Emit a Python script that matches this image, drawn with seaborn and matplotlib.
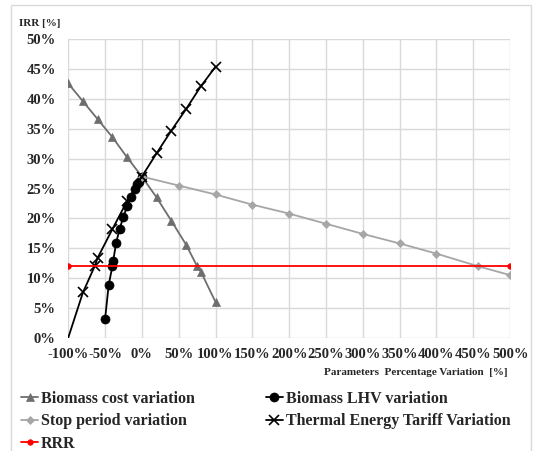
import numpy as np
import pandas as pd
import seaborn as sns
import matplotlib.pyplot as plt
from matplotlib.patches import Rectangle

# Values (x: % variation, y: IRR %)
cost_x = [-100, -80, -60, -40, -20, 0, 20, 40, 60, 75, 80, 100]
cost_y = [42.6, 39.6, 36.6, 33.6, 30.2, 27.0, 23.5, 19.6, 15.6, 12.0, 11.1, 6.0]

lhv_x = [-50, -45, -40, -39, -35, -30, -25, -20, -15, -10, -6, -4, 0]
lhv_y = [3.1, 8.9, 12.0, 12.8, 15.9, 18.3, 20.3, 22.0, 23.5, 24.9, 25.7, 26.1, 27.0]

stop_x = [0, 50, 100, 150, 200, 250, 300, 350, 400, 456, 500]
stop_y = [27.0, 25.5, 24.0, 22.3, 20.8, 19.1, 17.4, 15.8, 14.1, 12.0, 10.5]

tariff_x = [-100, -80, -64, -60, -40, -20, 0, 20, 40, 60, 80, 100]
tariff_y = [0.0, 7.6, 12.0, 13.4, 18.2, 22.9, 27.0, 30.9, 34.7, 38.3, 42.1, 45.4]

rrr_x = [-100, 500]
rrr_y = [12.0, 12.0]

x_ticks = list(range(-100, 501, 50))
y_ticks = list(range(0, 51, 5))

sns.set_theme(style="white")
plt.rcParams['font.family'] = ['Liberation Serif', 'DejaVu Serif']
plt.rcParams['font.weight'] = 'bold'

fig = plt.figure(figsize=(5.33, 4.51), dpi=100)
ax = fig.add_axes([0.128, 0.251, 0.829, 0.662])

# figure border
fig.patches.append(Rectangle((0.021, -0.01), 0.975, 1.0, transform=fig.transFigure,
                             fill=False, edgecolor="#d9d9d9", linewidth=1.0))

series = [
    ("Biomass cost variation", cost_x, cost_y, "#6e6e6e", "^", 5.5),
    ("Biomass LHV variation", lhv_x, lhv_y, "black", "o", 6.5),
    ("Stop period variation", stop_x, stop_y, "#a6a6a6", "D", 4),
    ("Thermal Energy Tariff Variation", tariff_x, tariff_y, "black", "x", 6.5),
    ("RRR", rrr_x, rrr_y, "#ff0000", "o", 4),
]
for name, xs, ys, col, mk, ms in series:
    df = pd.DataFrame({"x": xs, "y": ys})
    # the tariff curve starts at 0% without a marker in the original
    every = list(range(1, len(xs))) if mk == "x" else None
    sns.lineplot(data=df, x="x", y="y", ax=ax, color=col, marker=mk, markersize=ms,
                 markeredgecolor=col, markeredgewidth=1.2 if mk == "x" else 0.5,
                 markevery=every, linewidth=1.3, sort=False, label=name, zorder=3)

ax.set_xlim(-100, 500)
ax.set_ylim(0, 50)
ax.set_xticks(x_ticks)
ax.set_yticks(y_ticks)
ax.set_xticklabels([f"{t}%" for t in x_ticks], fontsize=10.5, fontweight="bold")
ax.set_yticklabels([f"{t}%" for t in y_ticks], fontsize=10.5, fontweight="bold")
ax.tick_params(axis="x", length=0, pad=7)
ax.tick_params(axis="y", length=0, pad=9)
ax.grid(True, color="#d9d9d9", linewidth=1.0)
for s in ax.spines.values():
    s.set_visible(False)
ax.set_xlabel("")
ax.set_ylabel("")

fig.text(0.035, 0.948, "IRR [%]", fontsize=8, fontweight="bold", ha="left", va="center")
fig.text(0.952, 0.173, "Parameters  Percentage Variation  [%]", fontsize=8,
         fontweight="bold", ha="right", va="center")

# legend: rows are (cost, LHV), (stop, tariff), (RRR) -> column-major order
handles, labels = ax.get_legend_handles_labels()
ax.legend_.remove()
order = [0, 2, 4, 1, 3]
fig.legend([handles[i] for i in order], [labels[i] for i in order],
           loc="upper left", bbox_to_anchor=(0.027, 0.148), ncol=2, frameon=False,
           prop={"size": 11.5, "weight": "bold"}, handlelength=1.1, handletextpad=0.15,
           columnspacing=4.45, labelspacing=0.42, borderaxespad=0)

fig.savefig("out.png", dpi=100)
